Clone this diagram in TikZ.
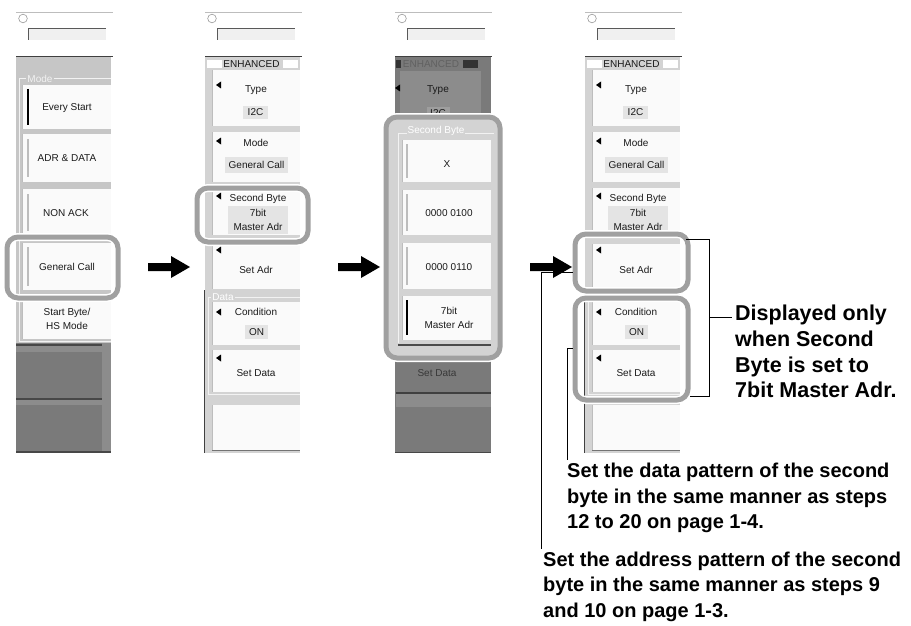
\documentclass[tikz,border=0pt]{standalone}
\usepackage{fontspec}
\setmainfont{Liberation Sans}
\newfontfamily\uifont{Liberation Sans}
\usetikzlibrary{calc}
\definecolor{panelgray}{HTML}{D3D3D3}
\definecolor{modegray}{HTML}{C6C6C6}
\definecolor{btnwhite}{HTML}{FAFAFA}
\definecolor{dimgray}{HTML}{7A7A7A}
\definecolor{hlgray}{HTML}{A0A0A0}
\definecolor{valbox}{HTML}{E4E4E4}
\definecolor{edgegray}{HTML}{BDBDBD}
\definecolor{uitext}{HTML}{1A1A1A}
\definecolor{framewhite}{HTML}{F2F2F2}
\tikzset{
  ui/.style={font=\uifont\fontsize{10}{11}\selectfont, inner sep=0pt, text=uitext},
  uis/.style={ui, font=\uifont\fontsize{10}{10}\selectfont},
  note/.style={font=\bfseries\fontsize{20}{24}\selectfont, inner sep=0pt, anchor=base west},
  notebig/.style={note, font=\bfseries\fontsize{21.5}{24}\selectfont},
  hl/.style={draw=hlgray, line width=5pt, rounded corners=11pt},
  halo/.style={draw=white, line width=8pt, rounded corners=11pt},
  leader/.style={draw=black, line width=0.9pt},
}
\newcommand\DrawTop[1]{%
  \draw[edgegray, line width=0.8pt] (#1,12.5) -- (#1+97,12.5);
  \draw[black!40, line width=0.6pt] (#1+7,18.5) circle[radius=4.3];
  \fill[black!6] (#1+12,28) rectangle (#1+90,40);
  \draw[black!65, line width=0.8pt] (#1+12,40) -- (#1+12,28) -- (#1+90,28);
  \draw[black!75, line width=1pt] (#1,57) -- (#1+97,57);
}
\newcommand\LTri[2]{\fill[black] (#1,#2-3.5) -- (#1,#2+3.5) -- (#1-5,#2) -- cycle;}
\newcommand\Btn[4]{\fill[btnwhite] (#1,#2) rectangle (#3,#4);
  \draw[edgegray, line width=1.2pt] (#1+0.6,#2) -- (#1+0.6,#4);}
\newcommand\BigArrow[2]{\fill[black] (#1,#2-4) -- (#1+23,#2-4) -- (#1+23,#2-11) -- (#1+42,#2) -- (#1+23,#2+11) -- (#1+23,#2+4) -- (#1,#2+4) -- cycle;}
\newcommand\PMenu[2]{%
  \DrawTop{#1}
  \fill[panelgray] (#1,57.5) rectangle (#1+95,453);
  \fill[white] (#1+2,60) rectangle (#1+17,68);
  \fill[white] (#1+78,60) rectangle (#1+93,68);
  \node[uis] (#2enh) at (#1+46.5,64.5) {ENHANCED};
  \Btn{#1+7}{70}{#1+95}{126}
  \LTri{#1+16}{85}
  \node[ui] (#2type) at (#1+51,90) {Type};
  \fill[valbox] (#1+38,106) rectangle (#1+63,119);
  \node[ui] (#2itwoc) at (#1+50.5,112.5) {I2C};
  \Btn{#1+7}{132}{#1+95}{182}
  \LTri{#1+16}{141}
  \node[ui] (#2mode) at (#1+51,143) {Mode};
  \fill[valbox] (#1+20,157) rectangle (#1+83,173);
  \node[ui] (#2modeval) at (#1+51.5,165) {General Call};
  \Btn{#1+7}{188}{#1+95}{235}
  \LTri{#1+16}{196}
  \node[ui] (#2sb) at (#1+53,198.5) {Second Byte};
  \fill[valbox] (#1+23,206) rectangle (#1+83,234);
  \node[ui] (#2sbva) at (#1+53,213) {7bit};
  \node[ui] (#2sbvb) at (#1+53,227) {Master Adr};
  \Btn{#1+7}{244}{#1+95}{289}
  \LTri{#1+16}{250}
  \node[ui] (#2setadr) at (#1+51,270) {Set Adr};
  \draw[framewhite, line width=1pt] (#1+95,297) -- (#1+3.5,297) -- (#1+3.5,394) -- (#1+95,394);
  \node[ui, text=white, fill=panelgray, inner xsep=1pt] (#2datalbl) at (#1+18,297) {Data};
  \Btn{#1+7}{302}{#1+95}{345}
  \LTri{#1+16}{312}
  \node[ui] (#2cond) at (#1+51,312) {Condition};
  \fill[valbox] (#1+40,325) rectangle (#1+63,339);
  \node[ui] (#2on) at (#1+51.5,332) {ON};
  \Btn{#1+7}{350}{#1+95}{392}
  \LTri{#1+16}{358}
  \node[ui] (#2setdata) at (#1+51,373) {Set Data};
  \Btn{#1+7}{405}{#1+95}{450}
  \draw[black!55, line width=1pt] (#1+7,450.5) -- (#1+95,450.5);
  \draw[black!75, line width=1pt] (#1-0.5,290) -- (#1-0.5,453);
}
\begin{document}
\begin{tikzpicture}[x=1pt,y=-1pt]
\useasboundingbox (0,0) rectangle (911,626);
\fill[white] (0,0) rectangle (911,626);

% ---------- Panel 1 ----------
\DrawTop{16}
\fill[modegray] (16,57.5) rectangle (111,343);
\draw[framewhite, line width=1pt] (111,79) -- (19.5,79) -- (19.5,341) -- (111,341);
\node[ui, text=framewhite, fill=modegray, inner xsep=1pt] (modelbl) at (40,79) {Mode};
\Btn{22}{85}{111}{129}
\draw[black, line width=2.2pt] (28,89) -- (28,125);
\node[ui] (everystart) at (67,108) {Every Start};
\Btn{22}{134}{111}{182}
\draw[edgegray, line width=2pt] (28,139) -- (28,177);
\node[ui] (adrdata) at (67,158) {ADR \& DATA};
\Btn{22}{189}{111}{236}
\draw[edgegray, line width=2pt] (28,194) -- (28,231);
\node[ui] (nonack) at (66,213) {NON ACK};
\Btn{22}{243}{111}{290}
\draw[edgegray, line width=2pt] (28,247) -- (28,286);
\node[ui] (gencall) at (67,267) {General Call};
\Btn{22}{296}{111}{339}
\node[ui] (startbyte) at (67,313) {Start Byte/};
\node[ui] (hsmode) at (67,326) {HS Mode};
\fill[dimgray] (16,343) rectangle (111,453);
\fill[black!45] (102,343) rectangle (111,453);
\fill[black!45] (16,346) rectangle (102,352);
\fill[black!45] (16,400) rectangle (102,405);
\draw[black!72, line width=1.2pt] (16,345) -- (102,345);
\draw[black!72, line width=1.2pt] (16,399) -- (102,399);
\draw[black!72, line width=1.2pt] (16,452) -- (111,452);
\draw[halo] (7,237) rectangle (118,298);
\draw[hl] (7,237) rectangle (118,298);

% ---------- Panel 2 ----------
\PMenu{205}{b}
\draw[halo] (197,188) rectangle (308,242);
\draw[hl] (197,188) rectangle (308,242);

% ---------- Panel 3 ----------
\DrawTop{395}
\fill[dimgray] (395,57.5) rectangle (491,453);
\fill[black!80] (396,60) rectangle (401,68);
\fill[black!80] (463,60) rectangle (478,68);
\node[uis, text=black!62] (cenh) at (431,64.5) {ENHANCED};
\fill[black!45] (400,71) rectangle (481,120);
\fill[black] (400,84.5) -- (400,91.5) -- (395,88) -- cycle;
\node[ui] (ctype) at (438,90) {Type};
\fill[black!38] (427,107) rectangle (450,120);
\node[ui] (citwoc) at (438,113) {I2C};
\node[ui, text=black!78] (csetdata) at (437,373) {Set Data};
\fill[black!85] (400,356) -- (400,362) -- (396,359) -- cycle;
\fill[black!45] (396,394) rectangle (491,407);
\draw[black!75, line width=1.2pt] (396,393) -- (491,393);
\draw[black!72, line width=1pt] (395,452) -- (491,452);
\draw[halo] (386,117) rectangle (500,358);
\fill[panelgray, rounded corners=9pt] (386,117) rectangle (500,358);
\draw[framewhite, line width=1pt] (494,133) -- (398,133) -- (398,343);
\node[ui, text=white, fill=panelgray, inner xsep=1pt] (csblbl) at (436,131) {Second Byte};
\Btn{402}{140}{491}{182}
\draw[edgegray, line width=2pt] (407,144) -- (407,178);
\node[ui] (cx) at (447,164) {X};
\Btn{402}{190}{491}{235}
\draw[edgegray, line width=2pt] (407,194) -- (407,231);
\node[ui] (cva) at (449,213) {0000 0100};
\Btn{402}{243}{491}{289}
\draw[edgegray, line width=2pt] (407,247) -- (407,285);
\node[ui] (cvb) at (449,267) {0000 0110};
\Btn{402}{296}{491}{340}
\draw[black, line width=2.2pt] (407,300) -- (407,335);
\node[ui] (cvc) at (449,311) {7bit};
\node[ui] (cvd) at (449,325) {Master Adr};
\draw[black!70, line width=1.5pt] (398,345) -- (491,345);
\draw[hl] (386,117) rectangle (500,358);

% ---------- Panel 4 ----------
\PMenu{585}{d}
\draw[halo] (575,234) rectangle (688,291);
\draw[hl] (575,234) rectangle (688,291);
\draw[halo] (575,298) rectangle (688,400);
\draw[hl] (575,298) rectangle (688,400);

% ---------- Arrows ----------
\BigArrow{148}{267}
\BigArrow{338}{267}
\BigArrow{530}{267}

% ---------- Bracket and notes ----------
\coordinate (brT) at (686,239);
\coordinate (brB) at (690,396);
\coordinate (brM) at (709,317);
\draw[leader] (brT) -- (709,239) -- (709,396) -- (brB);
\node[notebig] (dispa) at (735,320.5) {Displayed only};
\node[notebig] (dispb) at (735,346.5) {when Second};
\node[notebig] (dispc) at (735,372) {Byte is set to};
\node[notebig] (dispd) at (735,397.5) {7bit Master Adr.};
\draw[leader] (brM) -- ++(23,0);

\node[note] (data1) at (567,477) {Set the data pattern of the second};
\node[note] (data2) at (567,503) {byte in the same manner as steps};
\node[note] (data3) at (567,528.5) {12 to 20 on page 1-4.};
\node[note] (addr1) at (543,566) {Set the address pattern of the second};
\node[note] (addr2) at (543,591.5) {byte in the same manner as steps 9};
\node[note] (addr3) at (543,617) {and 10 on page 1-3.};

\coordinate (lda) at (572.5,348);
\coordinate (ldb) at (567,460);
\draw[leader] (lda) -- (ldb |- lda) -- (ldb);
\coordinate (laa) at (572.5,272);
\coordinate (lab) at (541,549);
\draw[leader] (laa) -- (lab |- laa) -- (lab);
\end{tikzpicture}
\end{document}
